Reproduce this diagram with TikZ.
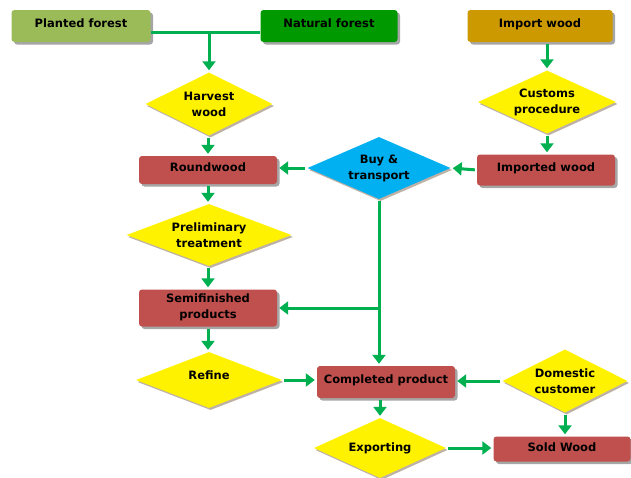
\documentclass[tikz,border=0pt]{standalone}
\usepackage{fontspec}
\setmainfont{DejaVu Sans}
\usetikzlibrary{arrows.meta,shapes.geometric,shadows}

\definecolor{plantgreen}{HTML}{9BBB59}
\definecolor{natgreen}{HTML}{009A00}
\definecolor{importgold}{HTML}{CC9900}
\definecolor{woodred}{HTML}{C0504D}
\definecolor{buyblue}{HTML}{00B0F0}
\definecolor{flowgreen}{HTML}{00B050}

\tikzset{
  box/.style={rectangle,rounded corners=3pt,minimum width=138pt,minimum height=30pt,
    inner sep=1pt,align=center,text depth=6pt,
    drop shadow={shadow xshift=2.5pt,shadow yshift=-2.5pt,fill=black!35,opacity=1}},
  decision/.style={diamond,fill=yellow,aspect=2.3,inner sep=0pt,align=center,
    drop shadow={shadow xshift=1.5pt,shadow yshift=-2pt,fill=brown!30!gray!60,opacity=1}},
  arr/.style={draw=flowgreen,line width=3pt,-{Triangle[length=9pt,width=13pt]},
    shorten >=2pt,shorten <=2pt},
  link/.style={draw=flowgreen,line width=3pt}
}

\begin{document}
\begin{tikzpicture}[x=1pt,y=-1pt,font=\fontsize{11.5}{16}\selectfont\bfseries]
  \useasboundingbox (0,0) rectangle (631,477);

  % sources
  \node[box,fill=plantgreen,minimum width=139pt,minimum height=32pt] (planted) at (81,26) {Planted forest};
  \node[box,fill=natgreen,minimum width=137pt,minimum height=32pt] (natural) at (329,26) {Natural forest};
  \node[box,fill=importgold,minimum width=145pt,minimum height=32pt] (import) at (540,26) {Import wood};

  % left column
  \node[decision,minimum width=127pt,minimum height=63pt] (harvest) at (209,104) {Harvest\\wood};
  \node[box,fill=woodred,minimum height=28pt] (round) at (208,170) {Roundwood};
  \node[decision,minimum width=165pt,minimum height=62pt] (prelim) at (209,235) {Preliminary\\treatment};
  \node[box,fill=woodred,minimum height=37pt,text depth=4pt] (semi) at (208,308) {Semifinished\\products};
  \node[decision,minimum width=146pt,minimum height=56pt] (refine) at (209,380) {\raisebox{9pt}{Refine}};

  % right column
  \node[decision,minimum width=138pt,minimum height=63pt] (customs) at (547,102) {Customs\\procedure};
  \node[box,fill=woodred,minimum width=138pt,minimum height=31pt] (imported) at (546,170) {Imported wood};
  \node[decision,fill=buyblue,minimum width=143pt,minimum height=62pt] (buy) at (379,168) {Buy \&\\transport};

  % bottom
  \node[box,fill=woodred,minimum width=138pt,minimum height=32pt] (completed) at (386,382) {Completed product};
  \node[decision,minimum width=125pt,minimum height=63pt] (domestic) at (565,381) {Domestic\\customer};
  \node[decision,minimum width=132pt,minimum height=60pt] (exporting) at (380,448) {Exporting};
  \node[box,fill=woodred,minimum width=137pt,minimum height=25pt,text depth=4pt] (sold) at (562,449) {Sold Wood};

  % connectors
  \coordinate (join) at (209,32);
  \draw[link] (planted.east |- join) -- (natural.west |- join);
  \draw[arr,shorten <=0pt] (join) -- (harvest.north);
  \draw[arr] (harvest.south -| round.north) -- (round.north);
  \draw[arr] (round.south) -- (prelim.north -| round.south);
  \draw[arr] (prelim.south -| semi.north) -- (semi.north);
  \draw[arr] (semi.south) -- (refine.north -| semi.south);
  \draw[arr] (import.south -| customs.north) -- (customs.north);
  \draw[arr] (customs.south) -- (imported.north -| customs.south);
  \draw[arr] (imported.west) -- (buy.east);
  \draw[arr] (buy.west) -- (round.east |- buy.west);
  \coordinate (fork) at (buy.south |- semi.east);
  \draw[link,shorten <=2pt] (buy.south) -- (fork);
  \draw[arr,shorten <=0pt] (fork) -- (semi.east);
  \draw[arr,shorten <=0pt] (fork) -- (buy.south |- completed.north);
  \draw[arr] (refine.east) -- (completed.west |- refine.east);
  \draw[arr] (domestic.west) -- (completed.east |- domestic.west);
  \draw[arr] (completed.south -| exporting.north) -- (exporting.north);
  \draw[arr] (domestic.south) -- (sold.north -| domestic.south);
  \draw[arr] (exporting.east) -- (sold.west |- exporting.east);
\end{tikzpicture}
\end{document}
